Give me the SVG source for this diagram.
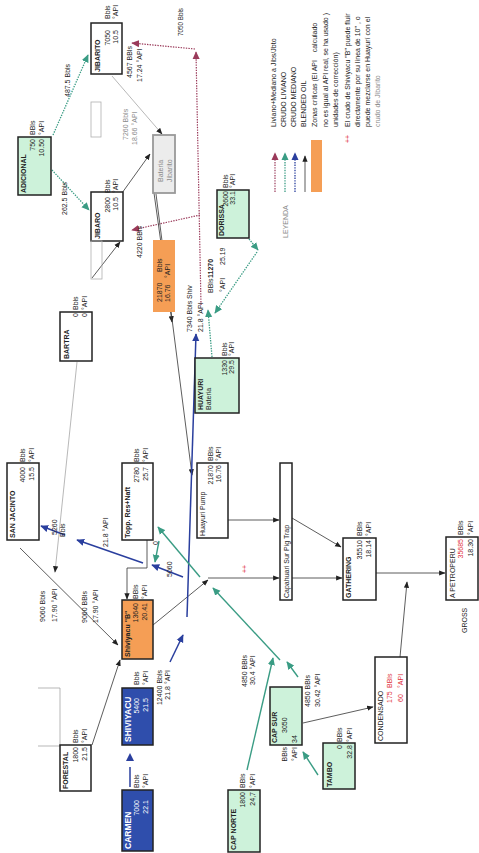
<svg xmlns="http://www.w3.org/2000/svg" width="479" height="853" viewBox="0 0 479 853">
<style>
  text { font-family: "Liberation Sans", Arial, sans-serif; font-size: 7px; fill: #222; }
  .nm { font-weight: bold; }
  .e { text-anchor: end; }
  .w { fill: #fff; }
  .r { fill: #e0303a; }
  .g { fill: #8a8a8a; }
  .box { fill: #fff; stroke: #222; stroke-width: 1.5; }
  .grn { fill: #cdf2da; }
  .blu { fill: #2f4eac; }
  .org { fill: #f59e55; }
  .ghost { fill: none; stroke: #b0b0b0; stroke-width: 0.8; }
  .k { fill: none; stroke: #333; stroke-width: 0.8; }
  .kg { fill: none; stroke: #999; stroke-width: 0.7; }
  .gs { fill: none; stroke: #3a9c84; stroke-width: 1.4; }
  .gd { fill: none; stroke: #3a9c84; stroke-width: 1.3; stroke-dasharray: 1.4 1.2; }
  .md { fill: none; stroke: #9a3a5a; stroke-width: 1.2; stroke-dasharray: 1.4 1.2; }
  .bs { fill: none; stroke: #2a3f9e; stroke-width: 1.5; }
  .bd { fill: none; stroke: #2a3f9e; stroke-width: 1.3; stroke-dasharray: 1.4 1.2; }
</style>
<defs>
  <marker id="ak" viewBox="0 0 10 10" refX="9" refY="5" markerWidth="6.5" markerHeight="6.5" markerUnits="userSpaceOnUse" orient="auto"><path d="M0,1 L10,5 L0,9 z" fill="#222"/></marker>
  <marker id="ag" viewBox="0 0 10 10" refX="9" refY="5" markerWidth="8" markerHeight="8" markerUnits="userSpaceOnUse" orient="auto"><path d="M0,0.5 L10,5 L0,9.5 z" fill="#3a9c84"/></marker>
  <marker id="ab" viewBox="0 0 10 10" refX="9" refY="5" markerWidth="8" markerHeight="8" markerUnits="userSpaceOnUse" orient="auto"><path d="M0,0.5 L10,5 L0,9.5 z" fill="#2a3f9e"/></marker>
  <marker id="am" viewBox="0 0 10 10" refX="9" refY="5" markerWidth="8" markerHeight="8" markerUnits="userSpaceOnUse" orient="auto"><path d="M0,0.5 L10,5 L0,9.5 z" fill="#9a3a5a"/></marker>
</defs>
<rect width="479" height="853" fill="#fff"/>

<!-- whole flow sheet is laid out landscape and turned a quarter turn -->
<g transform="translate(0,853) rotate(-90)">

  <!-- connectors -->
  <g id="connectors">
    <!-- green dotted: Adicional feeds -->
    <line class="gd" x1="718" y1="53" x2="798" y2="88" marker-end="url(#ag)"/>
    <line class="gd" x1="683" y1="52" x2="643" y2="89" marker-end="url(#ag)"/>
    <!-- green dotted: Huayuri / Dorissa to junction -->
    <line class="gd" x1="496" y1="212" x2="543" y2="208" marker-end="url(#ag)"/>
    <line class="gd" x1="614" y1="249" x2="603" y2="258" marker-end="url(#ag)"/>
    <line class="gd" x1="601" y1="257" x2="540" y2="215" marker-end="url(#ag)"/>
    <!-- maroon dotted: light+medium to Jibaro / Jibarito -->
    <line class="md" x1="548" y1="201" x2="801" y2="196" marker-end="url(#am)"/>
    <line class="md" x1="804" y1="195" x2="810" y2="132" marker-end="url(#am)"/>
    <line class="md" x1="638" y1="200" x2="623" y2="132" marker-end="url(#am)"/>

    <!-- Jibarito area, black/gray -->
    <line class="kg" x1="777" y1="112" x2="719" y2="162" marker-end="url(#ak)"/>
    <line class="k" x1="660" y1="122" x2="699" y2="150" marker-end="url(#ak)"/>
    <line class="k" x1="575" y1="92" x2="611" y2="120" marker-end="url(#ak)"/>
    <line class="k" x1="660" y1="154" x2="531" y2="172" marker-end="url(#ak)"/>
    <line class="k" x1="659" y1="156" x2="378" y2="192" marker-end="url(#ak)"/>
    <line class="kg" x1="491" y1="77" x2="281" y2="55" marker-end="url(#ak)"/>

    <!-- bracket by Forestal -->
    <polyline class="kg" points="165,38 165,60 107,60 107,38"/>

    <!-- black: into Shiviyacu "B" -->
    <line class="k" x1="108" y1="92" x2="193" y2="120" marker-end="url(#ak)"/>
    <line class="k" x1="305" y1="20" x2="208" y2="118" marker-end="url(#ak)"/>
    <polyline class="k" points="313,147 285,147 285,127 254,127" marker-end="url(#ak)"/>
    <!-- black: to pig trap, gathering, Petroperu -->
    <line class="k" x1="228" y1="153" x2="273" y2="208" marker-end="url(#ak)"/>
    <line class="k" x1="275" y1="208" x2="275" y2="279" marker-end="url(#ak)"/>
    <line class="k" x1="333" y1="228" x2="333" y2="279" marker-end="url(#ak)"/>
    <line class="k" x1="335" y1="292" x2="306" y2="341" marker-end="url(#ak)"/>
    <line class="k" x1="275" y1="292" x2="275" y2="342" marker-end="url(#ak)"/>
    <line class="k" x1="280" y1="376" x2="280" y2="445" marker-end="url(#ak)"/>
    <line class="k" x1="196" y1="400" x2="271" y2="407" marker-end="url(#ak)"/>
    <line class="k" x1="130" y1="303" x2="146" y2="373" marker-end="url(#ak)"/>

    <!-- blue: medium crude -->
    <line class="bs" x1="66" y1="130" x2="86" y2="130"/>
    <polygon points="100,130 92,126 92,134" fill="#2a3f9e"/>
    <line class="bs" x1="191" y1="170" x2="218" y2="183" marker-end="url(#ab)"/>
    <line class="bs" x1="236" y1="187" x2="519" y2="196" marker-end="url(#ab)"/>
    <line class="bs" x1="276" y1="183" x2="288" y2="152" marker-end="url(#ab)"/>
    <line class="bs" x1="290" y1="143" x2="313" y2="77" marker-end="url(#ab)"/>
    <line class="bs" x1="318" y1="65" x2="327" y2="41" marker-end="url(#ab)"/>

    <!-- green: light crude from Capahuari -->
    <line class="gs" x1="83" y1="247" x2="195" y2="273" marker-end="url(#ag)"/>
    <line class="gs" x1="176" y1="298" x2="191" y2="287" marker-end="url(#ag)"/>
    <line class="gs" x1="193" y1="280" x2="265" y2="213" marker-end="url(#ag)"/>
    <line class="gs" x1="276" y1="200" x2="326" y2="158" marker-end="url(#ag)"/>
    <line class="gs" x1="78" y1="318" x2="101" y2="303" marker-end="url(#ag)"/>
    <line class="gs" x1="312" y1="159" x2="291" y2="155" marker-end="url(#ag)"/>
  </g>

  <!-- nodes -->
  <g id="adicional">
    <rect class="box grn" x="658" y="18" width="58" height="33"/>
    <text class="nm" x="660" y="26">ADICIONAL</text>
    <text class="e" x="714" y="35">750</text><text x="718" y="35">BBls</text>
    <text class="e" x="714" y="44">10.50</text><text x="718" y="44">°API</text>
  </g>
  <g id="jibarito">
    <rect class="box" x="779" y="91" width="51" height="31"/>
    <text class="nm" x="781" y="100">JIBARITO</text>
    <text class="e" x="823" y="110">7050</text><text x="834" y="110">Bbls</text>
    <text class="e" x="823" y="118">10.5</text><text x="834" y="118">°API</text>
  </g>
  <g id="jibaro">
    <rect class="box" x="612" y="91" width="49" height="32"/>
    <text class="nm" x="614" y="100">JIBARO</text>
    <text class="e" x="656" y="110">2800</text><text x="660" y="110">Bbls</text>
    <text class="e" x="656" y="118">10.5</text><text x="660" y="118">°API</text>
  </g>
  <g id="ghost-boxes">
    <rect class="ghost" x="716" y="91" width="35" height="10"/>
    <rect class="ghost" x="574" y="91" width="38" height="11"/>
  </g>
  <g id="bateria-jibarito">
    <rect x="660" y="153" width="58" height="22" fill="#ececec" stroke="#999" stroke-width="1.8"/>
    <text class="g" x="671" y="163">Bateria</text>
    <text class="g" x="671" y="172">Jibarito</text>
  </g>
  <g id="dorissa">
    <rect class="box grn" x="615" y="217" width="48" height="32"/>
    <text class="nm" x="617" y="224">DORISSA</text>
    <text class="e" x="662" y="228">2600</text><text x="665" y="228">Bbls</text>
    <text class="e" x="662" y="235">33.1</text><text x="665" y="235">°API</text>
  </g>
  <g id="bartra">
    <rect class="box" x="492" y="60" width="49" height="32"/>
    <text class="nm" x="494" y="69">BARTRA</text>
    <text class="e" x="540" y="78">0</text><text x="543" y="78">Bbls</text>
    <text class="e" x="540" y="87">0</text><text x="543" y="87">°API</text>
  </g>
  <g id="zona-critica-huayuri">
    <rect class="org" x="541" y="153" width="72" height="22"/>
    <text x="551" y="162">21870</text><text x="581" y="162">Bbls</text>
    <text x="551" y="170">16.76</text><text x="575" y="170">°API</text>
  </g>
  <g id="huayuri">
    <rect class="box grn" x="440" y="195" width="55" height="44"/>
    <text class="nm" x="443" y="203">HUAYURI</text>
    <text x="443" y="211">Bateria</text>
    <text class="e" x="493" y="227">1330</text><text x="497" y="227">Bbls</text>
    <text class="e" x="493" y="234">29.5</text><text x="497" y="234">°API</text>
  </g>
  <g id="san-jacinto">
    <rect class="box" x="313" y="7" width="77" height="32"/>
    <text class="nm" x="315" y="15">SAN JACINTO</text>
    <text class="e" x="386" y="25">4000</text><text x="391" y="25">Bbls</text>
    <text class="e" x="386" y="34">15.5</text><text x="391" y="34">°API</text>
  </g>
  <g id="topping">
    <rect class="box" x="313" y="122" width="77" height="31"/>
    <text class="nm" x="315" y="130">Topp. Res+Naft</text>
    <text class="e" x="386" y="139">2780</text><text x="391" y="139">Bbls</text>
    <text class="e" x="386" y="148">25.7</text><text x="391" y="148">°API</text>
  </g>
  <g id="huayuri-pump">
    <rect class="box" x="315" y="197" width="75" height="31"/>
    <text x="317" y="205">Huayuri Pump</text>
    <text class="e" x="388" y="213">21870</text><text x="392" y="213">BBls</text>
    <text class="e" x="388" y="221">16.76</text><text x="392" y="221">°API</text>
  </g>
  <g id="pig-trap">
    <rect class="box" x="253" y="280" width="137" height="12"/>
    <text x="255" y="289">Capahuari Sur Pig Trap</text>
  </g>
  <g id="gathering">
    <rect class="box" x="253" y="343" width="62" height="33"/>
    <text class="nm" x="255" y="351">GATHERING</text>
    <text class="e" x="313" y="362">35510</text><text x="317" y="362">BBls</text>
    <text class="e" x="313" y="371">18.14</text><text x="317" y="371">°API</text>
  </g>
  <g id="petroperu">
    <rect class="box" x="253" y="446" width="63" height="32"/>
    <text x="255" y="455">A PETROPERU</text>
    <text class="e r" x="314" y="463">35685</text><text x="318" y="463">BBls</text>
    <text class="e" x="314" y="473">18.30</text><text x="318" y="473">°API</text>
    <text x="220" y="467">GROSS</text>
  </g>
  <g id="shiviyacu-b">
    <rect class="box org" x="194" y="122" width="59" height="31"/>
    <text class="nm" x="196" y="130">Shiviyacu "B"</text>
    <text class="e" x="250" y="138">13640</text><text x="254" y="138">BBls</text>
    <text class="e" x="250" y="147">20.41</text><text x="254" y="147">°API</text>
  </g>
  <g id="shiviyacu">
    <rect class="box blu" x="108" y="122" width="57" height="31"/>
    <text class="nm w" x="111" y="131" style="font-size:8.5px">SHIVIYACU</text>
    <text class="e w" x="155" y="139">5400</text><text x="168" y="139">Bbls</text>
    <text class="e w" x="155" y="148">21.5</text><text x="168" y="148">°API</text>
  </g>
  <g id="carmen">
    <rect class="box blu" x="2" y="122" width="61" height="31"/>
    <text class="nm w" x="4" y="131" style="font-size:8.5px">CARMEN</text>
    <text class="e w" x="53" y="139">7000</text><text x="65" y="139">Bbls</text>
    <text class="e w" x="53" y="148">22.1</text><text x="65" y="148">°API</text>
  </g>
  <g id="forestal">
    <rect class="box" x="62" y="60" width="46" height="31"/>
    <text class="nm" x="64" y="68">FORESTAL</text>
    <text class="e" x="106" y="78">1800</text><text x="110" y="78">Bbls</text>
    <text class="e" x="106" y="87">21.5</text><text x="110" y="87">°API</text>
  </g>
  <g id="cap-norte">
    <rect class="box grn" x="1" y="228" width="62" height="32"/>
    <text class="nm" x="3" y="236">CAP NORTE</text>
    <text class="e" x="61" y="245">1800</text><text x="65" y="245">BBls</text>
    <text class="e" x="61" y="255">24,7</text><text x="65" y="255">°API</text>
  </g>
  <g id="cap-sur">
    <rect class="box grn" x="108" y="270" width="58" height="32"/>
    <text class="nm" x="110" y="277">CAP SUR</text>
    <text x="120" y="287">3050</text><text class="e" x="106" y="287">BBls</text>
    <text x="110" y="297">34</text><text class="e" x="106" y="297">°API</text>
  </g>
  <g id="tambo">
    <rect class="box grn" x="64" y="323" width="46" height="32"/>
    <text class="nm" x="66" y="332">TAMBO</text>
    <text class="e" x="108" y="342">0</text><text x="111" y="342">BBls</text>
    <text class="e" x="108" y="352">32.8</text><text x="111" y="352">°API</text>
  </g>
  <g id="condensado">
    <rect class="box" x="110" y="375" width="86" height="32"/>
    <text x="112" y="383">CONDENSADO</text>
    <text class="r" x="150" y="392">175</text><text class="r" x="165" y="392">BBls</text>
    <text class="r" x="151" y="403">60</text><text class="r" x="165" y="403">°API</text>
  </g>

  <!-- flow labels -->
  <g id="flow-labels">
    <text x="756" y="70">487.5 Bbls</text>
    <text x="638" y="67">262.5 Bbls</text>
    <text class="g" x="713" y="128">7260 Bbls</text>
    <text class="g" x="708" y="137">18.66 °API</text>
    <text x="775" y="132">4567 BBls</text>
    <text x="771" y="142">17.24 °API</text>
    <text x="817" y="183" style="font-size:6.3px">7050 Bbls</text>
    <text x="595" y="142">4220 BBls</text>
    <text x="521" y="192">7340 Bbls Shiv</text>
    <text x="521" y="203">21.8 °API</text>
    <text x="560" y="213">BBls</text><text class="nm" x="575" y="213">11270</text>
    <text x="561" y="225">°API</text><text x="588" y="225">25.19</text>
    <text x="318" y="57">5260</text>
    <text x="316" y="65">Bbls</text>
    <text x="306" y="108">21.8 °API</text>
    <text x="308" y="158">0</text>
    <text x="276" y="172">5060</text>
    <text x="231" y="45">9060 Bbls</text>
    <text x="231" y="57">17.90 °API</text>
    <text x="230" y="87">9060 BBls</text>
    <text x="230" y="98">17.90 °API</text>
    <text class="e" x="183" y="162">12400 Bbls</text>
    <text class="e" x="183" y="170">21.8 °API</text>
    <text x="166" y="247">4850 BBls</text>
    <text x="168" y="255">30.4 °API</text>
    <text x="146" y="310">4850 BBls</text>
    <text x="146" y="320">30.42 °API</text>
    <text class="r" x="280" y="247">++</text>
  </g>

  <!-- legend -->
  <g id="legend">
    <text class="g" x="615" y="288">LEYENDA</text>
    <line class="md" x1="661" y1="275" x2="700" y2="275" marker-end="url(#am)"/>
    <line class="gd" x1="661" y1="285" x2="700" y2="285" marker-end="url(#ag)"/>
    <line class="bd" x1="661" y1="295" x2="700" y2="295" marker-end="url(#ab)"/>
    <line class="k" x1="661" y1="305" x2="697" y2="305" marker-end="url(#ak)"/>
    <rect class="org" x="661" y="311" width="52" height="11"/>
    <text class="r" x="710" y="350">++</text>
    <text x="726" y="276">Liviano+Mediano a Jibs/Jbto</text>
    <text x="726" y="286">CRUDO LIVIANO</text>
    <text x="726" y="296">CRUDO MEDIANO</text>
    <text x="726" y="306">BLENDED OIL</text>
    <text x="726" y="317" style="white-space:pre">Zonas críticas (El API    calculado</text>
    <text x="726" y="328">no es igual al API real, se ha usado )</text>
    <text x="726" y="338">unidades de corrección)</text>
    <text x="726" y="350">El crudo de Shiviyacu "B" puede fluir</text>
    <text x="726" y="360">directamente por su línea de 10" , o</text>
    <text x="726" y="370">puede mezclarse en Huayurí con el</text>
    <text class="g" x="726" y="380">crudo de Jibarito</text>
  </g>
</g>
</svg>
